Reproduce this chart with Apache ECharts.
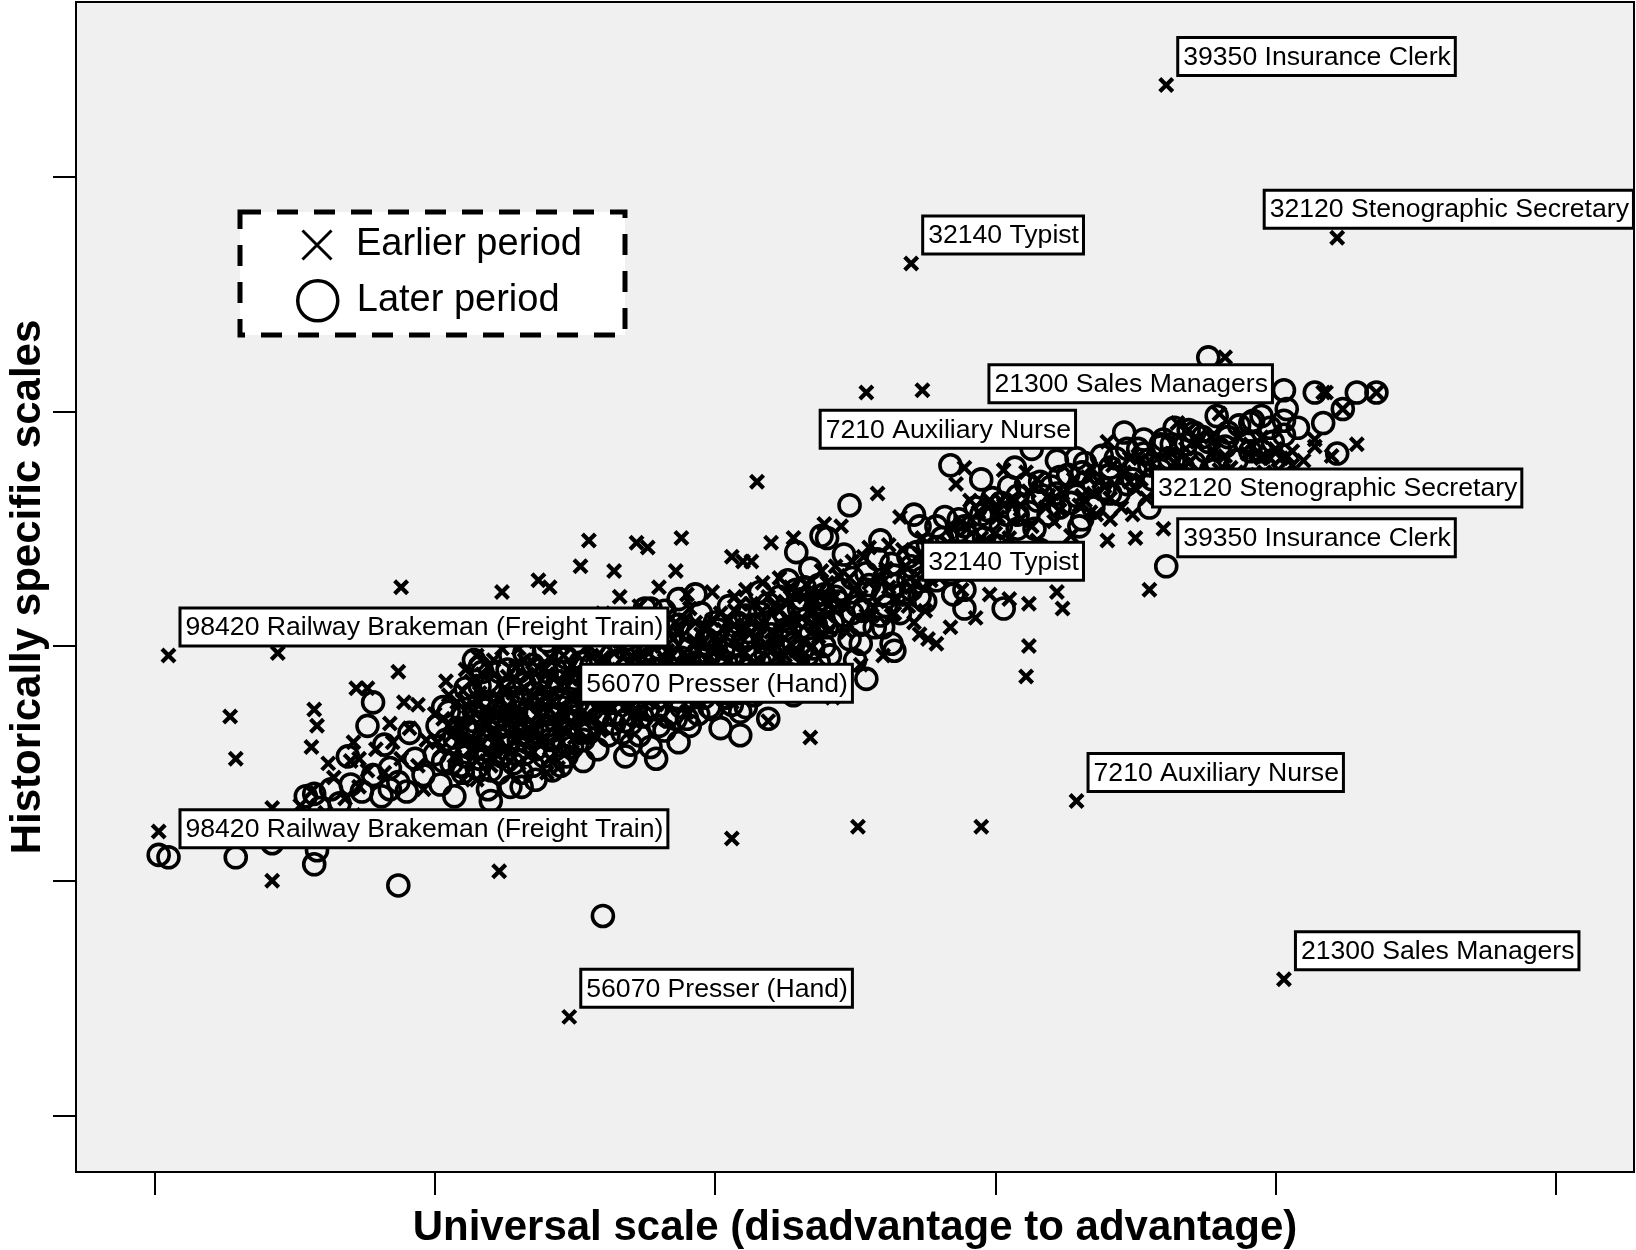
<!DOCTYPE html>
<html>
<head>
<meta charset="utf-8">
<script src="https://cdn.jsdelivr.net/npm/echarts@6/dist/echarts.min.js"></script>
<style>
html,body{margin:0;padding:0;background:#fff;}
#chart{width:1636px;height:1250px;}
</style>
</head>
<body>
<div id="chart"></div>
<script>
// ---------- DATA (axes carry no tick labels) ----------
const xTicks = [0, 10, 20, 30, 40, 50];
const yTicks = [0, 10, 20, 30, 40];

// Earlier period (crosses): [universal scale, historically specific scale]
const earlierPeriod = [
  [25.4,30.8],[27.4,30.9],[38.2,32.3],[21.5,27.0],[25.8,26.5],
  [15.5,24.5],[17.2,24.4],[17.6,24.2],[18.8,24.6],[22.0,24.4],
  [13.7,22.8],[14.1,22.5],[15.2,23.4],[16.4,23.2],[18.6,23.2],
  [8.8,22.5],[12.4,22.3],[4.4,19.7],
  [2.7,17.0],[2.9,15.2],[5.7,17.3],[5.8,16.6],[5.6,15.7],[7.2,18.2],[7.6,18.2],[9.4,17.5],
  [0.15,12.1],[4.2,13.1],[4.2,10.0],[12.3,10.4],[20.6,11.8],[25.1,12.3],[29.5,12.3],
  [23.4,16.1],[21.9,16.8],
  [31.1,18.7],[31.2,20.0],[32.4,21.6],[32.2,22.3],[31.2,21.8],[28.4,20.8],[27.5,21.5],[27.3,20.5],[26.3,21.3],[26.1,23.3],[25.4,21.3],
  [35.5,22.4],[36.0,25.0],[34.9,25.6],
  [42.9,28.6],[41.4,28.8],[41.7,30.8],[40.2,28.0],[39.5,28.0],
  [34.0,24.5],[33.4,25.7],[30.3,27.5],[28.9,27.6],[29.1,26.2],[30.2,26.2],
  [24.2,17.8],[24.2,18.9],
  [43.6,30.8],[42.4,30.1],[41.8,30.8],[36.9,29.2],[39.0,28.2],[39.6,28.1],[40.4,28.1],
  [31.5,27.1],[29.8,26.2],[30.7,26.2],[33.1,26.4],[33.4,27.6],[34.8,28.0],[34.1,25.4],[29.8,22.2],[27.6,20.3],
  [20.6,23.8],[21.3,23.6],[23.9,25.2],
  [8.7,18.9],[11.5,19.6],[8.4,16.7],[7.1,15.9],[7.3,15.2],
  [11.5,14.3],[11.0,14.3],[14.4,14.8],[14.1,15.2],
  [5.2,13.2],[5.6,13.8],[6.1,12.9],[6.4,14.4],[6.8,13.5],[7.0,15.1],[7.3,14.0],[7.6,14.7],[7.9,15.6],[6.2,15.0],[5.9,12.5],[7.1,12.8],
  [8.2,14.6],[8.5,15.9],[8.8,15.2],[9.1,16.5],[9.4,14.9],[9.7,16.0],[10.0,17.1],[10.2,15.6],[10.5,16.6],[10.8,17.6],[11.0,15.9],[11.3,16.9],[11.6,18.0],[11.9,17.2],[8.9,17.6],[10.4,18.5],[9.6,13.9],[11.5,15.1],
  [12.1,16.4],[12.3,17.8],[12.6,18.7],[12.9,17.1],[13.2,18.2],[13.5,19.3],[13.8,17.6],[14.0,18.8],[14.3,16.6],[14.6,19.6],[14.9,17.9],[15.2,18.6],[15.5,20.0],[15.8,17.4],[12.5,15.6],[13.7,20.6],[14.8,21.3],[15.4,16.1],[13.0,19.9],[15.9,19.0],
  [16.1,18.3],[16.4,19.7],[16.7,20.8],[17.0,18.9],[17.3,19.9],[17.6,17.8],[17.9,21.2],[18.2,19.4],[18.5,20.3],[18.8,18.6],[19.1,21.6],[19.4,19.8],[19.7,20.7],[16.6,22.1],[18.0,22.5],[19.5,17.9],[17.2,16.9],[19.9,22.3],
  [20.2,19.6],[20.5,21.1],[20.8,20.2],[21.1,22.4],[21.4,19.3],[21.7,21.5],[22.0,20.6],[22.3,22.9],[22.6,21.2],[22.9,19.8],[23.2,22.1],[23.5,20.9],[23.8,23.2],[21.0,23.6],[22.5,18.6],[23.6,18.9],[20.6,17.6],[22.8,24.6],
  [24.1,21.8],[24.4,23.0],[24.7,20.6],[25.0,22.4],[25.3,23.8],[25.6,21.3],[25.9,22.9],[26.2,24.3],[26.5,22.0],[26.8,23.4],[27.1,21.0],[27.4,24.6],[27.7,22.8],[24.5,25.1],[26.0,19.6],[27.9,20.1],[25.2,19.2],[26.6,25.5],
  [28.2,23.6],[28.5,25.0],[28.8,22.4],[29.1,24.3],[29.4,25.7],[29.7,23.2],[30.0,24.8],[30.3,26.0],[30.6,23.9],[30.9,25.4],[31.2,26.6],[31.5,24.5],[31.8,25.9],[29.3,21.2],[30.5,22.0],[28.6,26.9],[31.1,27.4],
  [32.1,25.3],[32.4,26.5],[32.7,24.7],[33.0,26.0],[33.3,27.2],[33.6,25.6],[33.9,26.8],[34.2,27.7],[34.5,25.9],[34.8,27.0],[35.1,28.1],[35.4,26.3],[35.7,27.5],[32.5,23.6],[34.0,28.7],[35.0,24.6],
  [36.0,27.1],[36.3,28.2],[36.6,26.6],[36.9,27.8],[37.2,28.7],[37.5,27.0],[37.8,28.3],[38.1,26.9],[38.4,27.6],[38.7,28.9],[39.0,27.3],[39.3,28.2],[39.6,27.4],[36.5,29.5],[38.0,29.9],[39.8,28.0],
  [40.1,27.5],[40.6,28.3],[41.0,27.9],[41.4,28.5],[42.0,28.1],
  [10.6,16.2],[11.2,17.4],[11.7,16.3],[12.2,17.5],[12.7,16.8],[13.3,17.5],[13.6,16.4],[14.1,17.3],[14.5,18.3],[15.0,18.9],[15.6,17.7],[16.2,19.0],[16.9,19.3],[17.5,18.6],[18.1,20.0],[18.7,19.3],[19.3,20.2],[20.0,20.4],[20.7,20.9],[21.3,20.6],[22.1,21.7],[22.7,20.1],[23.4,21.5],[24.0,22.7],
  [10.1,15.9],[10.3,16.9],[10.5,17.9],[10.7,15.3],[10.9,16.7],[11.1,19.0],[11.3,15.6],[11.5,17.7],[11.7,18.8],[11.9,15.5],[12.1,19.4],[12.3,16.0],[12.5,18.2],[12.7,15.1],[12.9,19.1],[13.1,16.2],[13.3,18.8],[13.5,15.5],[13.7,17.1],[13.9,19.0],[14.1,15.9],[14.3,18.0],[14.5,20.1],[14.7,16.3],[14.9,19.2],[15.1,16.9],[15.3,20.3],[12.0,14.9],[13.0,15.0],[14.0,14.6],
  [15.5,18.4],[15.7,21.0],[15.9,17.9],[16.1,20.3],[16.3,17.3],[16.5,18.7],[16.7,19.9],[16.9,17.6],[17.1,21.0],[17.3,18.2],[17.5,20.5],[17.7,19.2],[17.9,17.5],[18.1,18.9],[18.3,21.3],[18.5,17.9],[18.7,20.7],[18.9,19.7],[19.1,18.3],[19.3,21.0],[19.5,18.9],[19.7,19.4],[19.9,21.1],[20.1,18.9],[20.3,20.7],[16.0,16.5],[18.0,16.8],[19.0,17.2],
  [20.5,19.4],[20.7,22.1],[20.9,20.6],[21.1,19.1],[21.3,21.8],[21.5,20.2],[21.7,22.7],[21.9,19.9],[22.1,20.2],[22.3,21.5],[22.5,19.6],[22.7,22.5],[22.9,21.0],[23.1,19.4],[23.3,22.6],[23.5,21.8],[23.7,20.4],[23.9,21.9],[24.1,20.7],[24.3,23.4],
  [24.6,21.7],[24.9,23.6],[25.2,22.1],[25.5,24.2],[25.8,21.9],[26.1,23.2],[26.4,21.4],[26.7,24.1],[27.0,22.5],[27.3,23.9],
  [27.6,23.7],[28.0,22.9],[28.3,24.4],[28.7,23.5],[29.0,25.0],[29.4,23.9],[29.8,24.4],[30.1,25.5],[30.5,24.6],[30.9,26.0],[31.3,25.1],
  [31.9,26.4],[32.3,25.8],[32.8,27.1],[33.2,26.2],[33.7,27.0],[34.1,26.3],[34.6,27.4],[35.0,26.7],[35.5,27.9],[35.9,26.9],[36.4,27.8],[36.8,28.4],[37.3,27.4],[37.7,28.9],[38.2,28.1],[38.6,27.4],[39.1,28.6],[39.5,28.9],[40.0,28.4],[40.6,27.7],
  [11.4,16.0],[11.8,16.8],[12.4,16.9],[12.8,18.0],[13.4,16.0],[13.9,18.2],[14.2,17.6],[14.6,17.1],[15.1,19.6],[15.5,17.0],[15.8,18.8],[16.3,18.0],[16.6,20.2],[17.0,17.4],[17.4,19.6],[17.8,20.2],[18.2,18.1],[18.6,21.0],[19.0,19.2],[19.6,20.2],[20.2,21.4],[20.8,19.0],[21.2,21.1],[21.8,20.1],[22.4,20.8],[23.0,22.3],[23.6,21.1],[24.2,22.0],[24.8,22.9],[25.5,22.7],[26.2,22.5],[26.9,21.7],[27.5,23.1],[28.1,24.2],[28.8,25.3],[29.5,24.6],[30.2,24.1],[32.0,26.1],[33.5,26.5],[35.2,27.1],[36.7,27.3],[38.0,27.5],[12.0,16.9],[13.1,16.8],[14.8,16.7],[16.0,19.5],[17.7,18.3],[19.3,18.8],[20.9,21.8],[22.2,19.5],
  [11.0,18.1],[11.3,18.5],[11.6,16.6],[11.9,19.1],[12.2,15.4],[12.6,17.2],[12.9,16.1],[13.2,19.4],[13.5,17.9],[13.8,16.0],[14.1,19.5],[14.4,16.2],[14.7,18.7],[15.0,16.1],[15.3,17.8],[15.6,19.6],[15.9,16.4],[16.2,17.8],[16.5,20.6],[16.8,18.3],[17.1,19.5],[17.4,17.1],[17.7,20.7],[18.0,18.4],[18.3,19.8],[18.6,18.0],[18.9,21.1],[19.2,19.1],[19.5,20.5],[19.8,18.4],[20.1,20.0],[20.4,18.5],[20.7,21.5],[21.0,19.8],[21.3,18.6],[21.6,20.9],[21.9,22.1],[22.2,20.0],[22.5,21.9],[22.8,20.7],[23.1,21.2],[23.4,19.9],[23.7,22.3],[24.0,21.3],[12.4,19.9],[13.6,20.2],[16.0,21.4],[17.3,21.7],[19.0,22.2],[14.9,15.5]
];

// Later period (circles)
const laterPeriod = [
  [0.15,11.1],[2.9,11.0],[4.2,11.6],[5.7,10.7],[5.8,11.3],[8.7,9.8],[16.0,8.5],
  [7.8,17.6],[11.6,19.1],[11.6,18.3],
  [17.7,21.6],[18.7,22.0],[19.3,22.2],
  [20.9,17.2],[20.9,16.2],[17.7,15.7],[16.8,15.3],[25.4,18.6],[26.3,20.1],[30.3,21.6],
  [24.8,26.0],[27.1,25.6],[28.4,27.7],[31.3,28.4],[32.2,27.9],
  [37.6,32.3],
  [41.4,30.8],[42.9,30.8],[43.6,30.8],[42.4,30.1],[41.7,29.5],[40.4,30.1],[40.3,29.0],[39.1,29.5],[39.8,29.3],[36.9,29.2],
  [36.0,28.8],[37.6,28.7],[38.2,28.5],[35.9,28.6],[35.3,28.2],[34.1,27.6],[34.9,27.1],[34.1,26.5],[31.5,26.2],[32.2,26.5],[33.1,25.4],[29.8,25.4],[29.5,25.6],[27.9,25.1],[28.7,24.9],[28.9,22.4],[25.2,20.1],
  [23.8,24.7],[22.9,24.0],[19.8,17.4],[25.3,21.5],[26.0,20.8],[23.9,20.0],
  [12.0,13.4],[12.7,14.0],[13.1,14.0],[13.6,14.3],[8.4,13.9],[5.7,13.7],
  [5.4,13.6],[5.9,13.1],[6.3,13.9],[6.6,13.3],[7.0,14.1],[7.4,13.8],[7.8,14.5],[8.1,13.6],[8.4,14.8],[8.7,14.2],[9.0,13.8],[9.3,15.2],[9.6,14.5],[6.9,15.3],[8.2,15.8],[7.6,16.6],[9.1,16.3],
  [10.0,15.4],[10.2,14.1],[10.4,16.0],[10.6,15.0],[10.8,16.5],[11.0,14.6],[11.2,15.7],[11.4,16.8],[11.6,15.2],[11.8,17.3],[10.3,17.4],[11.1,18.2],[11.9,13.9],[10.7,13.6],
  [12.0,16.1],[12.2,17.2],[12.4,15.3],[12.6,16.6],[12.8,17.8],[13.0,16.0],[13.2,18.4],[13.4,16.9],[13.6,15.6],[13.8,17.5],[14.0,18.9],[14.2,16.4],[14.4,17.8],[14.6,15.9],[14.8,18.4],[15.0,17.0],[15.2,19.3],[15.4,16.5],[15.6,18.0],[15.8,16.9],[12.3,18.9],[13.1,14.6],[13.9,19.8],[14.5,14.9],[15.3,15.1],[15.7,20.1],[12.7,19.6],[14.9,20.5],
  [16.0,17.6],[16.2,18.8],[16.4,16.7],[16.6,19.4],[16.8,17.9],[17.0,15.8],[17.2,18.5],[17.4,20.0],[17.6,17.3],[17.8,19.0],[18.0,16.6],[18.2,18.2],[18.4,20.3],[18.6,17.7],[18.8,19.5],[19.0,16.9],[19.2,18.6],[19.4,20.6],[19.6,17.8],[19.8,19.6],[16.5,21.0],[17.5,21.6],[18.7,15.9],[19.5,21.4],[17.9,15.2],
  [20.0,18.4],[20.3,19.9],[20.6,17.5],[20.9,19.2],[21.2,20.6],[21.5,18.3],[21.8,19.7],[22.1,21.1],[22.4,18.9],[22.7,20.3],[23.0,21.6],[23.3,19.6],[23.6,20.9],[23.9,22.2],[20.5,21.7],[21.6,22.3],[22.8,17.9],[23.4,23.3],[20.2,16.5],[21.9,16.9],
  [24.2,21.0],[24.5,22.4],[24.8,20.3],[25.1,21.7],[25.4,23.1],[25.7,20.8],[26.0,22.2],[26.3,23.5],[26.6,21.4],[26.9,22.8],[27.2,24.0],[27.5,21.9],[27.8,23.3],[24.6,23.9],[25.9,24.5],[27.3,25.1],[26.4,19.8],[25.0,19.4],[24.0,24.6],
  [28.1,24.6],[28.4,23.1],[28.7,25.4],[29.0,24.0],[29.3,25.9],[29.6,24.6],[29.9,26.3],[30.2,25.1],[30.5,26.8],[30.8,25.6],[31.1,26.9],[31.4,25.0],[31.7,26.4],[28.5,22.2],[29.5,27.1],[30.7,27.6],[31.6,24.1],[28.9,21.6],
  [32.0,26.8],[32.3,25.9],[32.6,27.3],[32.9,26.4],[33.2,27.8],[33.5,26.9],[33.8,28.1],[34.1,27.3],[34.4,26.5],[34.7,28.4],[35.0,27.6],[35.3,28.8],[35.6,27.1],[35.9,28.5],[33.0,25.1],[34.6,29.1],[35.5,25.9],
  [36.2,28.0],[36.5,27.3],[36.8,28.6],[37.1,27.8],[37.4,28.9],[37.7,27.5],[38.0,28.4],[38.3,29.1],[38.6,27.9],[38.9,28.7],[39.2,29.6],[39.5,28.3],[36.4,29.3],[37.9,29.8],[38.5,26.8],
  [11.3,16.3],[11.7,17.0],[12.1,15.7],[12.5,17.5],[12.9,16.5],[13.3,17.2],[13.7,16.3],[14.1,17.1],[14.7,16.9],[15.1,18.1],[15.5,17.4],[16.1,18.3],[16.7,18.4],[17.3,19.1],[17.9,18.3],[18.5,19.0],[19.1,19.9],[19.7,18.9],[20.4,19.3],[21.0,20.2],[21.7,20.4],[22.3,20.0],[23.1,20.8],[11.0,17.0],[12.0,18.3],[13.5,18.0],[14.3,19.0],
  [10.1,16.6],[10.3,15.1],[10.5,17.2],[10.7,16.1],[10.9,14.9],[11.1,16.5],[11.3,17.9],[11.5,14.8],[11.7,16.0],[11.9,18.5],[12.1,16.8],[12.3,14.6],[12.5,16.2],[12.7,18.3],[12.9,15.4],[13.1,17.7],[13.3,15.9],[13.5,19.2],[13.7,17.8],[13.9,15.3],[14.1,18.4],[14.3,15.6],[14.5,17.4],[14.7,19.5],[14.9,15.7],[15.1,17.6],[15.3,18.7],[13.2,19.7],[11.4,19.4],[14.0,20.2],
  [15.5,16.3],[15.7,18.6],[15.9,19.8],[16.1,17.1],[16.3,19.6],[16.5,18.0],[16.7,16.3],[16.9,20.3],[17.1,17.6],[17.3,16.2],[17.5,18.9],[17.7,20.8],[17.9,17.3],[18.1,19.6],[18.3,17.0],[18.5,18.5],[18.7,20.9],[18.9,18.1],[19.1,16.6],[19.3,19.3],[19.5,18.2],[19.7,20.3],[19.9,17.3],[20.1,19.6],[20.3,18.0],[16.2,20.8],[18.2,21.5],[20.0,21.0],
  [20.5,18.8],[20.7,20.4],[20.9,18.0],[21.1,21.3],[21.3,19.5],[21.5,20.9],[21.7,18.6],[21.9,21.8],[22.1,19.3],[22.3,22.1],[22.5,20.7],[22.7,18.8],[22.9,22.4],[23.1,19.8],[23.3,21.2],[23.5,19.9],[23.7,22.6],[23.9,21.0],[24.1,19.6],[24.3,22.1],
  [24.6,21.3],[24.9,22.9],[25.2,20.9],[25.5,22.6],[25.8,23.7],[26.1,21.7],[26.4,23.0],[26.7,22.2],[27.0,23.4],[27.3,22.1],
  [27.6,24.3],[27.9,22.8],[28.2,25.5],[28.6,24.0],[28.9,25.1],[29.3,23.4],[29.7,25.8],[30.0,24.3],[30.4,25.6],[30.8,26.4],[31.2,25.7],[31.6,27.0],
  [31.9,25.6],[32.3,27.2],[32.7,26.1],[33.1,27.4],[33.5,25.9],[33.9,26.7],[34.3,28.0],[34.7,26.9],[35.1,28.4],[35.5,27.7],[35.9,27.5],[36.3,28.6],[36.7,27.6],[37.1,29.1],[37.5,28.3],[37.9,27.8],[38.3,28.9],[38.7,29.4],[39.1,28.3],[39.5,29.8],[39.9,28.7],[40.3,29.6],[40.8,29.3],
  [11.2,16.4],[11.6,17.6],[12.0,17.5],[12.4,16.0],[12.8,17.0],[13.2,15.4],[13.6,17.1],[14.0,16.6],[14.4,18.5],[14.8,17.6],[15.2,16.3],[15.6,19.2],[16.0,18.9],[16.4,17.6],[16.8,19.0],[17.2,17.8],[17.6,18.4],[18.0,19.9],[18.4,18.8],[18.8,17.4],[19.2,20.6],[19.6,19.2],[20.0,20.1],[20.4,17.8],[20.8,21.0],[21.2,19.0],[21.6,21.4],[22.0,20.5],[22.4,21.5],[22.8,19.4],[23.2,22.5],[23.6,21.7],[24.0,20.8],[24.4,21.9],[24.9,21.4],[25.4,22.4],[25.9,21.3],[26.4,22.6],[26.9,23.8],[27.4,22.9],[27.9,24.2],[28.4,23.9],[29.0,24.7],[29.6,24.0],[30.2,26.1],[30.8,25.0],[11.8,15.6],[13.0,18.9],[14.6,18.9],[16.6,17.1],[18.2,16.4],[21.4,17.9],[22.6,22.8],
  [11.1,15.3],[11.4,17.2],[11.7,18.9],[12.0,14.7],[12.3,16.5],[12.6,19.0],[12.9,17.2],[13.2,16.5],[13.5,14.9],[13.8,18.6],[14.1,16.0],[14.4,17.1],[14.7,15.3],[15.0,18.6],[15.3,16.0],[15.6,17.3],[15.9,18.2],[16.2,16.2],[16.5,19.3],[16.8,16.8],[17.1,18.7],[17.4,17.0],[17.7,19.5],[18.0,17.8],[18.3,20.0],[18.6,16.9],[18.9,19.0],[19.2,17.8],[19.5,19.7],[19.8,18.3],[20.1,20.7],[20.4,18.6],[20.7,19.7],[21.0,18.5],[21.3,20.9],[21.6,19.3],[21.9,20.3],[22.2,18.4],[22.5,21.3],[22.8,20.1],[23.1,22.0],[23.4,20.5],[23.7,19.3],[24.0,21.9],[12.8,15.0],[14.2,14.7],[15.8,15.6],[17.0,16.7],[19.4,17.1],[21.1,17.4]
];

// Labelled occupations: [label, universal scale, historically specific scale]
const earlierLabeled = [
  ['39350 Insurance Clerk', 36.1, 43.9],
  ['32120 Stenographic Secretary', 42.2, 37.4],
  ['32140 Typist', 27.0, 36.3],
  ['21300 Sales Managers', 40.3, 5.8],
  ['7210 Auxiliary Nurse', 32.9, 13.4],
  ['56070 Presser (Hand)', 14.8, 4.2],
  ['98420 Railway Brakeman (Freight Train)', 0.5, 19.6]
];
const laterLabeled = [
  ['39350 Insurance Clerk', 36.1, 23.4],
  ['32120 Stenographic Secretary', 42.2, 28.2],
  ['32140 Typist', 27.0, 22.4],
  ['21300 Sales Managers', 40.3, 30.9],
  ['7210 Auxiliary Nurse', 32.9, 28.0],
  ['56070 Presser (Hand)', 14.8, 17.2],
  ['98420 Railway Brakeman (Freight Train)', 0.5, 11.0]
];

// ---------- LAYOUT / STYLE ----------
const FONT = '"Liberation Sans", Arial, Helvetica, sans-serif';
const CROSS = 'path://M0,0L10,10M10,0L0,10';
const defaultPlacement = { align: 'left', verticalAlign: 'bottom', offset: [13, -11] };
const placement = {
  'earlier|32120 Stenographic Secretary': { align: 'left', verticalAlign: 'bottom', offset: [-71.5, -11] },
  'later|21300 Sales Managers': { align: 'right', verticalAlign: 'bottom', offset: [-13, 11] },
  'later|7210 Auxiliary Nurse': { align: 'right', verticalAlign: 'bottom', offset: [-2.5, -11.5] },
  'later|32120 Stenographic Secretary': { align: 'center', verticalAlign: 'top', offset: [0, 17] }
};
const labelBase = {
  show: true,
  position: ['50%', '50%'],
  color: '#000',
  fontFamily: FONT,
  fontSize: 26.6,
  backgroundColor: '#fff',
  borderColor: '#000',
  borderWidth: 3,
  padding: [5, 3, 3, 4]
};
function labeledData(list, period) {
  return list.map(function (d) {
    const p = placement[period + '|' + d[0]] || defaultPlacement;
    return {
      name: d[0],
      value: [d[1], d[2]],
      label: Object.assign({}, labelBase, { formatter: d[0], align: p.align, verticalAlign: p.verticalAlign, offset: p.offset })
    };
  });
}

const crossStyle = { color: 'rgba(0,0,0,0)', borderColor: '#000', borderWidth: 4.2, opacity: 1 };
const circleStyle = { color: 'rgba(0,0,0,0)', borderColor: '#000', borderWidth: 3.6, opacity: 1 };

const chart = echarts.init(document.getElementById('chart'), null, { renderer: 'canvas' });
chart.setOption({
  animation: false,
  backgroundColor: '#fff',
  grid: {
    left: 76, right: 2, top: 2, bottom: 78,
    show: true, backgroundColor: '#f0f0f0', borderColor: '#000', borderWidth: 2,
    outerBoundsMode: 'none', containLabel: false
  },
  xAxis: {
    type: 'value', min: -2.8, max: 52.79,
    name: 'Universal scale (disadvantage to advantage)',
    nameLocation: 'middle', nameGap: 35,
    nameTextStyle: { fontFamily: FONT, fontWeight: 'bold', fontSize: 42, color: '#000' },
    axisLine: { show: true, onZero: false, lineStyle: { color: '#000', width: 2 } },
    axisTick: { show: true, inside: false, length: 23, customValues: xTicks, lineStyle: { color: '#000', width: 2 } },
    axisLabel: { show: false },
    splitLine: { show: false }
  },
  yAxis: {
    type: 'value', min: -2.41, max: 47.44,
    name: 'Historically specific scales',
    nameLocation: 'middle', nameGap: 27,
    nameTextStyle: { fontFamily: FONT, fontWeight: 'bold', fontSize: 42, color: '#000' },
    axisLine: { show: true, onZero: false, lineStyle: { color: '#000', width: 2 } },
    axisTick: { show: true, inside: false, length: 23, customValues: yTicks, lineStyle: { color: '#000', width: 2 } },
    axisLabel: { show: false },
    splitLine: { show: false }
  },
  legend: [
    {
      data: ['Earlier period'], left: 301, top: 226, padding: 0, orient: 'vertical',
      itemWidth: 68, itemHeight: 29, z: 20,
      itemStyle: { color: 'rgba(0,0,0,0)', borderColor: '#000', borderWidth: 3 },
      textStyle: { fontFamily: FONT, fontSize: 38, color: '#000' },
      selectedMode: false
    },
    {
      data: ['Later period'], left: 296, top: 279, padding: 0, orient: 'vertical',
      itemWidth: 68, itemHeight: 40, z: 20,
      itemStyle: { color: 'rgba(0,0,0,0)', borderColor: '#000', borderWidth: 3.5 },
      textStyle: { fontFamily: FONT, fontSize: 38, color: '#000' },
      selectedMode: false
    }
  ],
  graphic: [{
    type: 'rect', z: 15, silent: true,
    shape: { x: 240, y: 212, width: 385, height: 123 },
    style: { fill: '#fff', stroke: '#000', lineWidth: 5, lineDash: [21, 16] }
  }],
  series: [
    {
      name: 'Earlier period', type: 'scatter', z: 2, symbol: CROSS, symbolSize: 13, symbolKeepAspect: true,
      itemStyle: crossStyle, emphasis: { disabled: true }, data: earlierPeriod
    },
    {
      name: 'Later period', type: 'scatter', z: 2, symbol: 'circle', symbolSize: 21,
      itemStyle: circleStyle, emphasis: { disabled: true }, data: laterPeriod
    },
    {
      name: 'Earlier period', type: 'scatter', z: 6, symbol: CROSS, symbolSize: 13, symbolKeepAspect: true,
      itemStyle: crossStyle, emphasis: { disabled: true }, data: labeledData(earlierLabeled, 'earlier')
    },
    {
      name: 'Later period', type: 'scatter', z: 6, symbol: 'circle', symbolSize: 21,
      itemStyle: circleStyle, emphasis: { disabled: true }, data: labeledData(laterLabeled, 'later')
    }
  ]
});
</script>
</body>
</html>
